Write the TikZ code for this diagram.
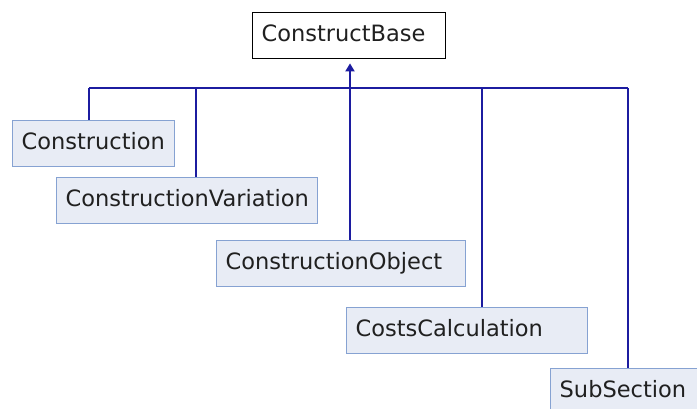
\documentclass[tikz,border=0pt]{standalone}
\usepackage{fontspec}
\setmainfont{DejaVu Sans}
\usetikzlibrary{arrows.meta}
\definecolor{linkblue}{HTML}{1C1CA0}
\definecolor{boxfill}{HTML}{E8ECF5}
\definecolor{boxedge}{HTML}{86A2D2}
\definecolor{labelink}{HTML}{202020}
\begin{document}
\begin{tikzpicture}[x=1pt,y=-1pt,
  cls/.style={draw=boxedge, fill=boxfill, line width=1.4pt, anchor=north west,
    minimum height=46pt, inner xsep=9pt, inner ysep=0pt, text=labelink,
    font=\fontsize{22.5}{25}\selectfont, text height=16pt, text depth=5pt, align=left},
  basecls/.style={cls, draw=black, fill=white},
  link/.style={draw=linkblue, line width=1.8pt}]
\useasboundingbox (0,0) rectangle (697,408);
\clip (0,0) rectangle (697,408);

% classes
\node[basecls, text width=175pt] (base) at (252,12) {ConstructBase};
\node[cls, text width=144pt] (construction) at (12,120) {Construction};
\node[cls, text width=243pt] (variation) at (56,177) {ConstructionVariation};
\node[cls, text width=231pt] (object) at (216,240) {ConstructionObject};
\node[cls, text width=223pt] (costs) at (346,307) {CostsCalculation};
\node[cls, text width=160pt] (subsection) at (550,368) {SubSection};

% junctions on the inheritance bus
\coordinate (j1) at (89,88);
\coordinate (j2) at (196,88);
\coordinate (j3) at (350,88);
\coordinate (j4) at (482,88);
\coordinate (j5) at (628,88);

\draw[link] (j1) -- (j5);
\draw[link] (j1) -- (j1 |- construction.north);
\draw[link] (j2) -- (j2 |- variation.north);
\draw[link] (j3) -- (j3 |- object.north);
\draw[link] (j4) -- (j4 |- costs.north);
\draw[link] (j5) -- (j5 |- subsection.north);
\draw[link, -{Triangle[width=9pt,length=8pt]}, shorten >=4pt] (j3) -- (j3 |- base.south);
\end{tikzpicture}
\end{document}
